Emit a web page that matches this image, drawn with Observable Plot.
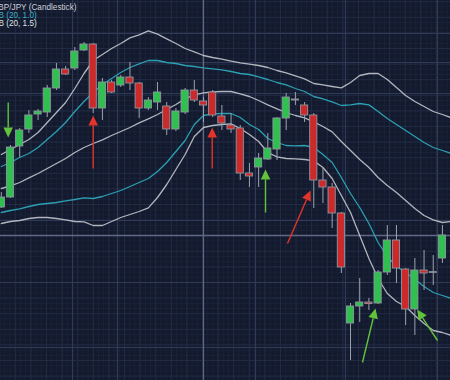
<!DOCTYPE html>
<html><head><meta charset="utf-8">
<script src="https://cdn.jsdelivr.net/npm/d3@7"></script>
<script src="https://cdn.jsdelivr.net/npm/@observablehq/plot@0.6"></script>
<style>html,body{margin:0;padding:0;background:#131a2e;overflow:hidden}</style>
</head><body><div id="chart"></div>
<script>
// Candles (GBP/JPY), one per session, index 0..48
const opens  = [149.65,150.15,152.7,153.55,154.3,154.4,155.6,156.55,156.6,157.5,157.8,154.6,155.9,155.75,156.15,155.85,154.6,154.9,154.7,153.55,154.4,155.5,154.95,155.4,154.2,153.75,153.6,151.35,151.65,152.05,152.55,154.1,155.05,154.75,154.25,151.0,150.65,149.35,143.85,144.7,144.9,144.85,146.4,148.0,146.55,144.55,146.5,146.42,147.1];
const highs  = [150.4,152.75,153.6,154.5,154.55,155.75,156.85,156.7,157.65,157.9,157.85,156.1,156.0,156.25,156.9,155.9,155.15,155.9,154.9,154.6,155.6,156.0,155.15,155.5,154.75,154.35,153.75,151.85,152.35,153.35,154.15,155.35,155.4,154.9,154.35,151.6,150.85,149.4,144.85,146.1,145.1,146.5,148.75,148.75,146.6,147.1,147.5,147.25,148.75];
const lows   = [149.6,150.1,152.15,153.35,154.0,154.15,155.5,156.25,156.5,157.45,154.35,154.0,155.35,155.65,155.5,154.1,154.5,154.5,153.25,153.45,154.3,154.9,153.9,154.15,153.5,153.35,151.0,150.65,150.65,152.0,152.0,153.5,154.75,153.9,149.6,149.85,148.6,146.35,142.0,143.9,144.5,144.8,146.25,145.85,143.75,143.25,145.5,145.75,146.85];
const closes = [150.15,152.65,153.5,154.25,154.45,155.6,156.55,156.3,157.45,157.8,154.6,155.9,155.4,156.15,155.85,154.6,155.0,155.4,153.55,154.45,155.5,155.0,154.75,154.25,153.85,153.55,151.35,151.2,152.1,152.6,154.1,155.15,155.0,154.25,151.0,150.65,149.35,146.65,144.7,144.9,144.82,146.4,148.0,146.6,144.55,146.5,146.35,146.38,148.25];

// Bollinger bands (20), index 0..49
const bbMid     = [150.6,150.73,150.9,151.13,151.35,151.6,151.85,152.1,152.4,152.65,152.85,153.03,153.25,153.45,153.65,153.88,154.08,154.3,154.55,154.8,155.08,155.28,155.38,155.43,155.45,155.45,155.33,155.2,155.0,154.78,154.58,154.4,154.25,154.13,153.93,153.7,153.43,152.95,152.5,152.05,151.65,151.15,150.75,150.4,150.0,149.6,149.25,149.03,148.9,148.95];
const bbUpper15 = [152.3,152.55,152.8,153.05,153.4,153.9,154.4,154.9,155.6,156.35,157.0,157.3,157.6,157.85,158.13,158.28,158.48,158.32,158.08,157.85,157.6,157.43,157.25,157.15,157.07,156.97,156.88,156.82,156.75,156.65,156.5,156.38,156.23,156.08,155.85,155.78,155.7,155.63,155.9,156.25,156.35,156.35,156.05,155.65,155.25,154.95,154.7,154.45,154.3,154.13];
const bbLower15 = [148.85,148.95,149.0,149.1,149.15,149.15,149.1,149.03,148.95,148.93,148.75,148.75,148.95,149.15,149.3,149.45,149.63,150.15,150.8,151.55,152.3,153.2,153.65,153.75,153.8,153.83,153.6,153.3,152.95,152.4,152.18,152.1,152.08,152.05,151.98,151.65,151.1,150.25,149.4,148.25,147.1,146.1,145.35,144.95,144.7,144.25,143.85,143.5,143.4,143.25];
const bbUpper10 = [151.7,151.9,152.15,152.35,152.65,153.05,153.45,153.9,154.45,154.95,155.4,155.8,156.1,156.4,156.65,156.83,157.0,157.0,156.9,156.85,156.75,156.7,156.63,156.58,156.53,156.45,156.35,156.3,156.18,156.05,155.9,155.78,155.6,155.45,155.2,155.08,154.93,154.75,154.78,154.85,154.78,154.45,154.1,153.8,153.5,153.2,152.9,152.65,152.5,152.35];
const bbLower10 = [149.4,149.5,149.58,149.7,149.8,149.85,149.9,149.98,150.05,150.13,150.1,150.2,150.35,150.5,150.7,150.9,151.1,151.45,151.9,152.45,153.0,153.8,154.25,154.33,154.35,154.35,154.15,153.8,153.55,153.1,152.9,152.75,152.73,152.75,152.65,152.3,151.9,151.15,150.35,149.65,148.85,147.9,147.2,146.7,146.4,146.05,145.7,145.4,145.25,145.1];

const legendLabels = ["GBP/JPY (Candlestick)", "BB (20, 1.0)", "BB (20, 1.5)"];

// Signal arrows: from (index, price) to (index, price)
const signalColor = ["green","red","red","green","red","green","green"];
const signalFromX = [0.75, 10.0, 22.95, 28.75, 31.14, 39.3, 47.46];
const signalFromY = [154.9, 151.6, 151.6, 149.4, 147.85, 141.9, 143.0];
const signalToX   = [0.75, 10.0, 22.95, 28.75, 33.64, 40.72, 45.25];
const signalToY   = [153.15, 154.25, 153.65, 151.55, 150.5, 144.6, 144.55];

const W = 450, H = 380;
const xDomain = [-0.088, 48.878];
const yDomain = [141, 160];
const kx = W / (xDomain[1] - xDomain[0]);
const ky = H / (yDomain[1] - yDomain[0]);

const candles = opens.map((o, i) => ({i, open: o, high: highs[i], low: lows[i], close: closes[i]}));
const bandIdx = d3.range(bbMid.length);

const arrowCol = {green: "#62c23c", red: "#e3342a"};
const shafts = [], heads = [];
signalColor.forEach((c, k) => {
  const x1 = signalFromX[k], y1 = signalFromY[k], x2 = signalToX[k], y2 = signalToY[k];
  const sx = (x2 - x1) * kx, sy = -(y2 - y1) * ky;
  const len = Math.hypot(sx, sy), ux = sx / len, uy = sy / len;
  const hl = 10, hw = 4.8;
  const bx = -ux * hl, by = -uy * hl; // base center offset (screen px)
  const nx = -uy, ny = ux;
  const toData = (px, py) => [x2 + px / kx, y2 - py / ky];
  const base = toData(bx, by);
  shafts.push({x1, y1, x2: base[0], y2: base[1], c});
  [[0, 0], [bx + nx * hw, by + ny * hw], [bx - nx * hw, by - ny * hw]].forEach(([px, py]) => {
    const [dx, dy] = toData(px, py);
    heads.push({k, x: dx, y: dy, c});
  });
});

// grid ticks (data units)
const fineX = d3.range(-0.18, 49, 0.566);
const fineY = d3.range(141.22, 160, 0.26);
const medX = d3.range(-0.17, 49, 1.697);
const medY = d3.range(141.22, 160, 0.78);
const majX = [7.75, 12.64, 27.66, 37.45, 47.46];
const majY = [158.35, 156.9, 155.35, 149.0, 145.9, 142.65];
const crossX = [22.0], crossY = [148.25];

const white = "#cdd0d6", teal = "#2c9fb2";

const chart = Plot.plot({
  width: W, height: H,
  margin: 0,
  x: {domain: xDomain, axis: null},
  y: {domain: yDomain, axis: null},
  style: {background: "#131a2e", overflow: "hidden"},
  marks: [
    Plot.ruleX(fineX, {stroke: "#1a2238", strokeWidth: 1}),
    Plot.ruleY(fineY, {stroke: "#1a2238", strokeWidth: 1}),
    Plot.ruleX(medX, {stroke: "#212b43", strokeWidth: 1}),
    Plot.ruleY(medY, {stroke: "#212b43", strokeWidth: 1}),
    Plot.ruleX(majX, {stroke: "#2f3b56", strokeWidth: 1.2}),
    Plot.ruleY(majY, {stroke: "#2f3b56", strokeWidth: 1.2}),
    Plot.ruleX(crossX, {stroke: "#5f6983", strokeWidth: 1.3}),
    Plot.ruleY(crossY, {stroke: "#5f6983", strokeWidth: 1.3}),
    Plot.line(bandIdx, {x: i => i, y: i => bbUpper15[i], stroke: white, strokeWidth: 1.3, strokeOpacity: 0.85}),
    Plot.line(bandIdx, {x: i => i, y: i => bbLower15[i], stroke: white, strokeWidth: 1.3, strokeOpacity: 0.85}),
    Plot.line(bandIdx, {x: i => i, y: i => bbUpper10[i], stroke: teal, strokeWidth: 1.3}),
    Plot.line(bandIdx, {x: i => i, y: i => bbLower10[i], stroke: teal, strokeWidth: 1.3}),
    Plot.line(bandIdx, {x: i => i, y: i => bbMid[i], stroke: white, strokeWidth: 1.3, strokeOpacity: 0.85}),
    Plot.ruleX(candles, {x: "i", y1: "low", y2: "high", stroke: "#9ca2ad", strokeWidth: 1}),
    Plot.rect(candles, {
      x1: d => d.i - 0.39, x2: d => d.i + 0.39,
      y1: "open", y2: "close",
      fill: d => d.close >= d.open ? "#30c04f" : "#cc2a2a",
      stroke: "#8f96a1", strokeWidth: 0.9
    }),
    Plot.link(shafts, {x1: "x1", y1: "y1", x2: "x2", y2: "y2", stroke: d => arrowCol[d.c], strokeWidth: 1.4}),
    Plot.line(heads, {x: "x", y: "y", z: "k", fill: d => arrowCol[d.c], stroke: "none"}),
    Plot.text([legendLabels[0]], {frameAnchor: "top-left", dx: -8.5, dy: 3.5, textAnchor: "start", fill: "#cdd1da", fontSize: 8.2, fontFamily: "Liberation Sans, Arial, sans-serif"}),
    Plot.text([legendLabels[1]], {frameAnchor: "top-left", dx: -7.5, dy: 11.7, textAnchor: "start", fill: "#3bb3c5", fontSize: 8.2, fontFamily: "Liberation Sans, Arial, sans-serif"}),
    Plot.text([legendLabels[2]], {frameAnchor: "top-left", dx: -7.5, dy: 19.8, textAnchor: "start", fill: "#dde0e5", fontSize: 8.2, fontFamily: "Liberation Sans, Arial, sans-serif"})
  ]
});
document.getElementById("chart").appendChild(chart);
</script>
</body></html>
